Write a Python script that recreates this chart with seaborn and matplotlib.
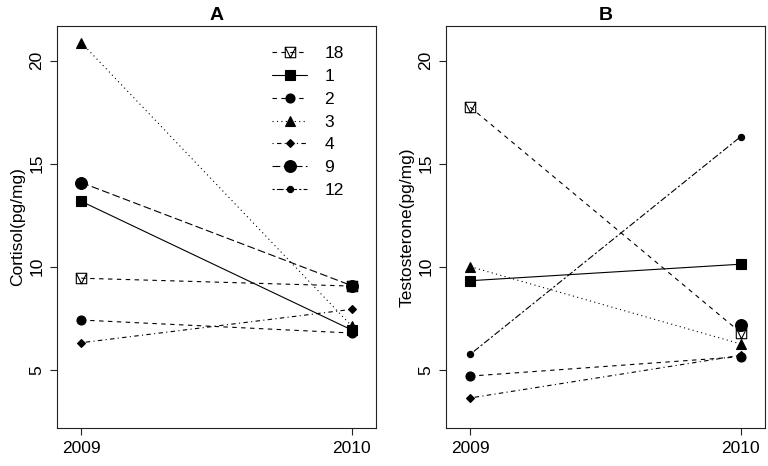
import matplotlib
matplotlib.use('Agg')
import matplotlib.pyplot as plt
import numpy as np
import pandas as pd
import seaborn as sns
from matplotlib.path import Path

years = [2009, 2010]
ids = ['18', '1', '2', '3', '4', '9', '12']
cortisol_2009 = [9.44, 13.17, 7.41, 20.87, 6.31, 14.08, np.nan]
cortisol_2010 = [9.06, 6.93, 6.78, 7.12, 7.93, 9.08, np.nan]
testo_2009 = [17.74, 9.32, 4.69, 10.0, 3.63, np.nan, 5.75]
testo_2010 = [6.80, 10.12, 5.63, 6.25, 5.70, 7.17, 16.31]

sns.set_theme(style='ticks')
plt.rcParams['font.family'] = ['Liberation Sans', 'DejaVu Sans']
plt.rcParams['axes.edgecolor'] = '#222222'
plt.rcParams['xtick.color'] = '#222222'
plt.rcParams['ytick.color'] = '#222222'
plt.rcParams['xtick.labelcolor'] = 'black'
plt.rcParams['ytick.labelcolor'] = 'black'
plt.rcParams['text.color'] = 'black'
plt.rcParams['axes.labelcolor'] = 'black'

# square with a V inside (R pch 14 look-alike)
box_v = Path([(-1, -1), (1, -1), (1, 1), (-1, 1), (-1, -1), (-1, 1), (0, -1), (1, 1)],
             [Path.MOVETO, Path.LINETO, Path.LINETO, Path.LINETO, Path.LINETO,
              Path.MOVETO, Path.LINETO, Path.LINETO])

# marker, size, face, line dashes per subject
styles = {
    '18': (box_v, 7.5, 'none', (4, 4)),
    '1': ('s', 7, 'black', None),
    '2': ('o', 6.5, 'black', (4, 4)),
    '3': ('^', 7.5, 'black', (1, 3)),
    '4': ('D', 4.5, 'black', (1, 3, 4, 3)),
    '9': ('o', 8.5, 'black', (7, 3)),
    '12': ('o', 4.5, 'black', (2, 2, 6, 2)),
}


def long_frame(v09, v10):
    rows = []
    for i, sid in enumerate(ids):
        rows.append((sid, years[0], v09[i]))
        rows.append((sid, years[1], v10[i]))
    return pd.DataFrame(rows, columns=['id', 'year', 'value'])


df_a = long_frame(cortisol_2009, cortisol_2010)
df_b = long_frame(testo_2009, testo_2010)

fig = plt.figure(figsize=(7.68, 4.66), dpi=100)
ax_a = fig.add_axes([0.0742, 0.0815, 0.4154, 0.8627])
ax_b = fig.add_axes([0.5807, 0.0815, 0.4154, 0.8627])


def draw_panel(ax, d, title, ylabel):
    handles = []
    for sid in ids:
        sub = d[d['id'] == sid].dropna()
        mk, ms, fc, dash = styles[sid]
        kw = dict(color='black', marker=mk, markersize=ms, markerfacecolor=fc,
                  markeredgecolor='black', markeredgewidth=0.8, lw=0.8)
        if dash is not None:
            kw['dashes'] = dash
        if len(sub):
            sns.lineplot(data=sub, x='year', y='value', ax=ax, legend=False, **kw)
        h, = ax.plot([], [], **kw)
        handles.append(h)
    ax.set_xlim(2008.91, 2010.09)
    ax.set_ylim(2.17, 21.68)
    ax.set_xticks(years)
    ax.set_xticklabels([str(y) for y in years])
    ax.set_yticks([5, 10, 15, 20])
    ax.set_yticklabels(['5', '10', '15', '20'], rotation=90, va='center')
    ax.tick_params(axis='both', length=5, width=0.8, labelsize=12.5, pad=4)
    ax.set_xlabel('')
    ax.set_ylabel(ylabel, fontsize=12.5, labelpad=3)
    ax.set_title(title, fontsize=14, fontweight='bold', pad=4)
    for s in ax.spines.values():
        s.set_linewidth(0.8)
    return handles


hs = draw_panel(ax_a, df_a, 'A', 'Cortisol(pg/mg)')
draw_panel(ax_b, df_b, 'B', 'Testosterone(pg/mg)')

ax_a.legend(hs, ids, loc='upper left', bbox_to_anchor=(0.675, 0.95), frameon=False,
            fontsize=12.5, handlelength=2.0, handletextpad=1.0, labelspacing=0.44,
            borderpad=0, borderaxespad=0)

fig.savefig('out.png', dpi=100)
